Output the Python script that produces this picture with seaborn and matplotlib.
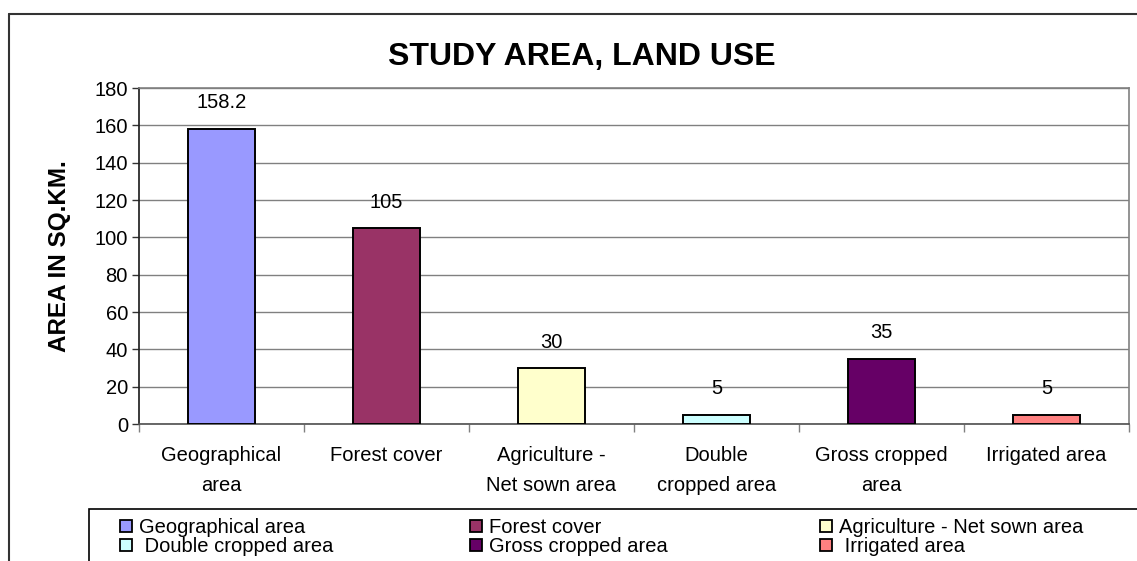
import matplotlib
matplotlib.use("Agg")
import matplotlib.pyplot as plt
from matplotlib.patches import Patch, Rectangle
from matplotlib.lines import Line2D
import seaborn as sns
import pandas as pd

categories = ["Geographical area", "Forest cover", "Agriculture - Net sown area",
              "Double cropped area", "Gross cropped area", "Irrigated area"]
tick_labels = ["Geographical\narea", "Forest cover", "Agriculture -\nNet sown area",
               "Double\ncropped area", "Gross cropped\narea", "Irrigated area"]
legend_labels = ["Geographical area", "Forest cover", "Agriculture - Net sown area",
                 " Double cropped area", "Gross cropped area", " Irrigated area"]
values = [158.2, 105, 30, 5, 35, 5]
value_text = ["158.2", "105", "30", "5", "35", "5"]
colors = ["#9999FF", "#993366", "#FFFFCC", "#CCFFFF", "#660066", "#FF8080"]

sns.set_theme(style="white", rc={"text.color": "black", "axes.labelcolor": "black",
                                 "xtick.color": "black", "ytick.color": "black"})
plt.rcParams["font.family"] = ["Liberation Sans", "DejaVu Sans"]

W, H = 1137, 561
fig = plt.figure(figsize=(W / 100, H / 100), dpi=100)
fig.patch.set_facecolor("white")

# plot area in pixel coordinates
x0, x1, ytop, ybot = 139, 1129, 88, 424
ax = fig.add_axes([x0 / W, 1 - ybot / H, (x1 - x0) / W, (ybot - ytop) / H])

df = pd.DataFrame({"category": categories, "value": values})
sns.barplot(data=df, x="category", y="value", hue="category", palette=colors,
            saturation=1, dodge=False, width=0.41, edgecolor="black", linewidth=1.4,
            legend=False, ax=ax, zorder=3)

ax.set_xlim(-0.5, 5.5)
ax.set_ylim(0, 180)
ax.set_yticks(range(0, 181, 20))
ax.tick_params(axis="y", labelsize=14.5, length=5, width=1, color="#333333",
               left=True, pad=3, labelcolor="black")
ax.yaxis.grid(True, color="#808080", linewidth=1)
ax.set_axisbelow(True)

ax.set_xticks(range(len(categories)))
ax.set_xticklabels(tick_labels, fontsize=14.5, linespacing=1.75)
ax.tick_params(axis="x", length=0, pad=16, labelcolor="black")
ax.set_xticks([i - 0.5 for i in range(len(categories) + 1)], minor=True)
ax.tick_params(axis="x", which="minor", length=6, width=1, color="#808080", bottom=True)

ax.set_xlabel("")
ax.set_ylabel("AREA IN SQ.KM.", fontsize=17.5, fontweight="bold")
ax.yaxis.set_label_coords((71 - x0) / (x1 - x0), 0.5)

for sp in ("top", "right"):
    ax.spines[sp].set_color("#808080")
    ax.spines[sp].set_linewidth(1.2)
ax.spines["left"].set_color("#222222")
ax.spines["bottom"].set_color("#555555")
for sp in ax.spines.values():
    sp.set_visible(True)

for i, (v, t) in enumerate(zip(values, value_text)):
    ax.annotate(t, (i, v), xytext=(0, 18.5), textcoords="offset points",
                ha="center", va="center", fontsize=14.5)

fig.text(582 / W, 1 - 57 / H, "STUDY AREA, LAND USE", ha="center", va="center",
         fontsize=23, fontweight="bold")

# outer chart border (top and left edges)
fig.add_artist(Line2D([9 / W, 1.0], [1 - 14 / H, 1 - 14 / H], transform=fig.transFigure,
                      color="#333333", linewidth=1.5))
fig.add_artist(Line2D([9 / W, 9 / W], [0, 1 - 14 / H], transform=fig.transFigure,
                      color="#333333", linewidth=1.5))

# legend frame
fig.add_artist(Rectangle((89 / W, -0.05), 1.0, 1 - 509 / H + 0.05, transform=fig.transFigure,
                         facecolor="white", edgecolor="black", linewidth=1.2))

order = [[0, 3], [1, 4], [2, 5]]
col_x = [120, 470, 820]
for cx, idxs in zip(col_x, order):
    handles = [Patch(facecolor=colors[k], edgecolor="black", linewidth=1.3,
                     label=legend_labels[k]) for k in idxs]
    fig.legend(handles=handles, loc="upper left",
               bbox_to_anchor=(cx / W, 1 - 518 / H), frameon=False,
               fontsize=14.5, handlelength=0.6, handleheight=0.6,
               handletextpad=0.35, labelspacing=0.0, borderpad=0,
               borderaxespad=0)

fig.savefig("out.png", dpi=100, facecolor="white")
